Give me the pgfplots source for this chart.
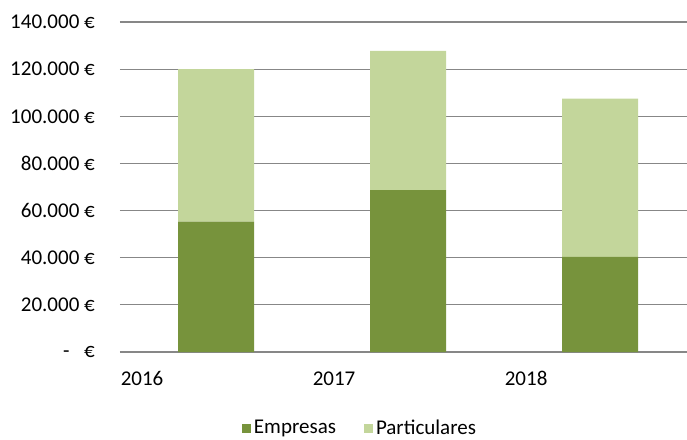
\documentclass[border=0pt]{standalone}
\usepackage{fontspec}
\setmainfont{Carlito}
\usepackage{pgfplots}
\pgfplotsset{compat=1.18}
\definecolor{empresas}{HTML}{77933C}
\definecolor{particulares}{HTML}{C3D69B}
\definecolor{gridgray}{HTML}{878787}
\begin{document}
\begin{tikzpicture}
\begin{axis}[
  name=ax,
  scale only axis,
  width=567pt, height=330pt,
  ybar stacked, bar width=76pt,
  xmin=-0.5, xmax=2.453,
  ymin=0, ymax=140000,
  scaled y ticks=false,
  ytick={0,20000,40000,60000,80000,100000,120000,140000},
  yticklabels={{-\hspace{0.7em}€},{20.000 €},{40.000 €},{60.000 €},{80.000 €},{100.000 €},{120.000 €},{140.000 €}},
  xtick={-0.385,0.615,1.615},
  xticklabels={2016,2017,2018},
  ymajorgrids,
  grid style={gridgray, line width=1.2pt},
  axis line style={draw=none},
  tick style={draw=none},
  major tick length=0pt,
  font=\fontsize{21}{25}\selectfont,
  yticklabel style={anchor=east, inner sep=0pt, xshift=-25pt},
  xticklabel style={anchor=base, inner sep=0pt, yshift=-33.5pt},
  legend columns=2,
  legend style={draw=none, fill=none, at={(0.4215,-0.2303)}, anchor=center,
    font=\fontsize{21}{25}\selectfont,
    nodes={inner sep=0pt},
    /tikz/every even column/.style={column sep=28pt}},
  legend image code/.code={\fill[#1] (0pt,-4.5pt) rectangle (9pt,4.5pt);\path (12pt,0pt);},
  clip=false,
]
\addplot[fill=empresas, draw=none] coordinates {(0,55300) (1,68700) (2,40400)};
\addplot[fill=particulares, draw=none] coordinates {(0,64700) (1,59000) (2,67100)};
\legend{Empresas,Particulares}
\end{axis}
\pgfresetboundingbox
\path[use as bounding box] ([xshift=-120pt,yshift=-87pt]ax.south west) rectangle ([yshift=22pt]ax.north east);
\end{tikzpicture}
\end{document}
